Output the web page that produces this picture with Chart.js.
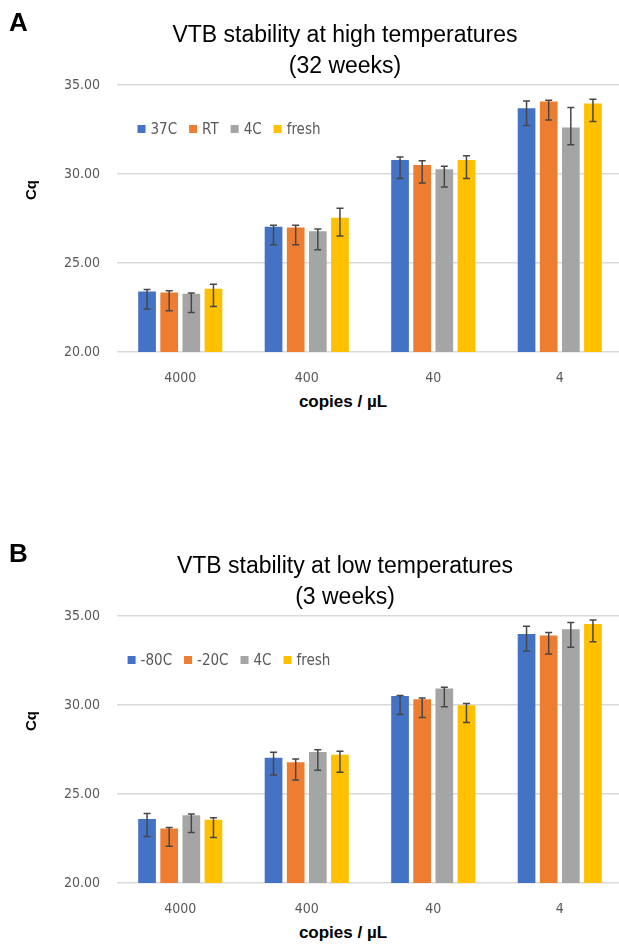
<!DOCTYPE html>
<html>
<head>
<meta charset="utf-8">
<script src="https://cdn.jsdelivr.net/npm/chart.js@4.4.0/dist/chart.umd.min.js"></script>
<style>
  html, body { margin: 0; padding: 0; background: #fff; width: 619px; height: 946px; overflow: hidden; }
  .panel { position: absolute; left: 0; width: 690px; height: 420px; }
  .panel canvas { position: absolute; left: 0; top: 0; }
  .tag { position: absolute; left: 9px; top: 9px; font: bold 26px 'Liberation Sans', Arial, sans-serif; line-height: 1; color: #000; }
  .title { position: absolute; left: 345px; top: 19px; transform: translateX(-50%); font: 23px 'Liberation Sans', Arial, sans-serif; line-height: 31px; text-align: center; white-space: nowrap; color: #000; }
  .ytitle { position: absolute; left: 30px; top: 190px; transform: translate(-50%, -50%) rotate(-90deg); font: bold 15px 'Liberation Sans', Arial, sans-serif; color: #000; white-space: nowrap; }
  .xtitle { position: absolute; left: 343px; top: 402px; transform: translate(-50%, -50%); font: bold 17px 'Liberation Sans', Arial, sans-serif; color: #000; white-space: nowrap; }
</style>
</head>
<body>
<div class="panel" style="top:0">
  <canvas id="chartA" width="690" height="392"></canvas>
  <div class="tag">A</div>
  <div class="title" id="titleA"></div>
  <div class="ytitle">Cq</div>
  <div class="xtitle">copies / µL</div>
</div>
<div class="panel" style="top:531px">
  <canvas id="chartB" width="690" height="392"></canvas>
  <div class="tag">B</div>
  <div class="title" id="titleB"></div>
  <div class="ytitle">Cq</div>
  <div class="xtitle">copies / µL</div>
</div>
<script>
// categories and y ticks (shared)
const categories = ['4000', '400', '40', '4'];
const yTicks = [20, 25, 30, 35];

// Panel A - high temperatures (32 weeks)
const titleA = ['VTB stability at high temperatures', '(32 weeks)'];
const seriesA = ['37C', 'RT', '4C', 'fresh'];
const a37C   = [23.40, 27.04, 30.78, 33.69];
const aRT    = [23.34, 27.00, 30.50, 34.07];
const a4C    = [23.27, 26.78, 30.26, 32.61];
const aFresh = [23.55, 27.54, 30.78, 33.96];
// error bar ends (top / bottom)
const a37CHi   = [23.51, 27.12, 30.96, 34.10];
const a37CLo   = [22.41, 26.03, 29.75, 32.72];
const aRTHi    = [23.44, 27.12, 30.74, 34.14];
const aRTLo    = [22.32, 26.03, 29.49, 33.04];
const a4CHi    = [23.31, 26.91, 30.43, 33.73];
const a4CLo    = [22.22, 25.75, 29.27, 31.64];
const aFreshHi = [23.81, 28.07, 31.02, 34.20];
const aFreshLo = [22.56, 26.52, 29.75, 32.95];

// Panel B - low temperatures (3 weeks)
const titleB = ['VTB stability at low temperatures', '(3 weeks)'];
const seriesB = ['-80C', '-20C', '4C', 'fresh'];
const bM80   = [23.60, 27.04, 30.50, 33.99];
const bM20   = [23.06, 26.78, 30.33, 33.90];
const b4C    = [23.81, 27.36, 30.93, 34.25];
const bFresh = [23.55, 27.21, 29.99, 34.55];
const bM80Hi   = [23.90, 27.34, 30.54, 34.42];
const bM80Lo   = [22.61, 26.07, 29.47, 33.04];
const bM20Hi   = [23.12, 26.97, 30.40, 34.07];
const bM20Lo   = [22.07, 25.79, 29.30, 32.87];
const b4CHi    = [23.88, 27.49, 31.00, 34.63];
const b4CLo    = [22.84, 26.33, 29.90, 33.25];
const bFreshHi = [23.66, 27.40, 30.09, 34.78];
const bFreshLo = [22.56, 26.22, 29.02, 33.56];

const seriesColors = ['#4472C4', '#ED7D31', '#A5A5A5', '#FFC000'];
const narrowFont = "'Liberation Sans Narrow', 'DejaVu Sans Condensed', 'Open Sans', sans-serif";

// draws the error bars from each dataset's errHi / errLo through the y scale
const errorBars = {
    id: 'errorBars',
    afterDatasetsDraw(chart) {
        const ctx = chart.ctx;
        const y = chart.scales.y;
        ctx.save();
        ctx.strokeStyle = '#474747';
        ctx.lineWidth = 1.5;
        chart.data.datasets.forEach((ds, i) => {
            chart.getDatasetMeta(i).data.forEach((bar, j) => {
                const top = y.getPixelForValue(ds.errHi[j]);
                const bot = y.getPixelForValue(ds.errLo[j]);
                ctx.beginPath();
                ctx.moveTo(bar.x, top); ctx.lineTo(bar.x, bot);
                ctx.moveTo(bar.x - 3.5, top); ctx.lineTo(bar.x + 3.5, top);
                ctx.moveTo(bar.x - 3.5, bot); ctx.lineTo(bar.x + 3.5, bot);
                ctx.stroke();
            });
        });
        ctx.restore();
    }
};

// legend sits inside the plot area, like the Excel one
const insideLegend = {
    id: 'insideLegend',
    afterDraw(chart) {
        const { ctx, chartArea } = chart;
        const box = 8, gap = 5, spacing = 12;
        ctx.save();
        ctx.font = '15px ' + narrowFont;
        ctx.textBaseline = 'middle';
        const widths = chart.data.datasets.map(ds => ctx.measureText(ds.label).width);
        const total = widths.reduce((s, w) => s + box + gap + w, 0) + spacing * (widths.length - 1);
        let x = chartArea.left + 112 - total / 2;
        const y = chartArea.top + 44;
        chart.data.datasets.forEach((ds, i) => {
            ctx.fillStyle = ds.backgroundColor;
            ctx.fillRect(x, y - box / 2, box, box);
            ctx.fillStyle = '#595959';
            ctx.fillText(ds.label, x + box + gap, y + 1);
            x += box + gap + widths[i] + spacing;
        });
        ctx.restore();
    }
};

function makeChart(id, titleId, title, names, values, his, los) {
    document.getElementById(titleId).innerHTML = title.join('<br>');
    const ctx = document.getElementById(id).getContext('2d');
    return new Chart(ctx, {
        type: 'bar',
        data: {
            labels: categories,
            datasets: names.map((name, i) => ({
                label: name,
                data: values[i],
                errHi: his[i],
                errLo: los[i],
                backgroundColor: seriesColors[i],
                borderWidth: 0,
                categoryPercentage: 0.7,
                barPercentage: 0.8
            }))
        },
        options: {
            responsive: false,
            animation: false,
            devicePixelRatio: 1,
            layout: { padding: { left: 0, right: 67, top: 85, bottom: 0 } },
            plugins: {
                legend: { display: false },
                tooltip: { enabled: false }
            },
            scales: {
                x: {
                    grid: { display: false },
                    border: { display: false },
                    ticks: { color: '#595959', font: { family: narrowFont, size: 14 }, padding: 10 },
                    afterFit: s => { s.height = 40; }
                },
                y: {
                    min: 20,
                    max: 35,
                    afterBuildTicks: s => { s.ticks = yTicks.map(v => ({ value: v })); },
                    ticks: {
                        color: '#595959',
                        font: { family: narrowFont, size: 14 },
                        padding: 17,
                        callback: v => v.toFixed(2)
                    },
                    grid: { color: '#d9d9d9', lineWidth: 1.5, drawTicks: false },
                    border: { display: false },
                    afterFit: s => { s.width = 117; }
                }
            }
        },
        plugins: [errorBars, insideLegend]
    });
}

makeChart('chartA', 'titleA', titleA, seriesA,
    [a37C, aRT, a4C, aFresh],
    [a37CHi, aRTHi, a4CHi, aFreshHi],
    [a37CLo, aRTLo, a4CLo, aFreshLo]);

makeChart('chartB', 'titleB', titleB, seriesB,
    [bM80, bM20, b4C, bFresh],
    [bM80Hi, bM20Hi, b4CHi, bFreshHi],
    [bM80Lo, bM20Lo, b4CLo, bFreshLo]);
</script>
</body>
</html>
